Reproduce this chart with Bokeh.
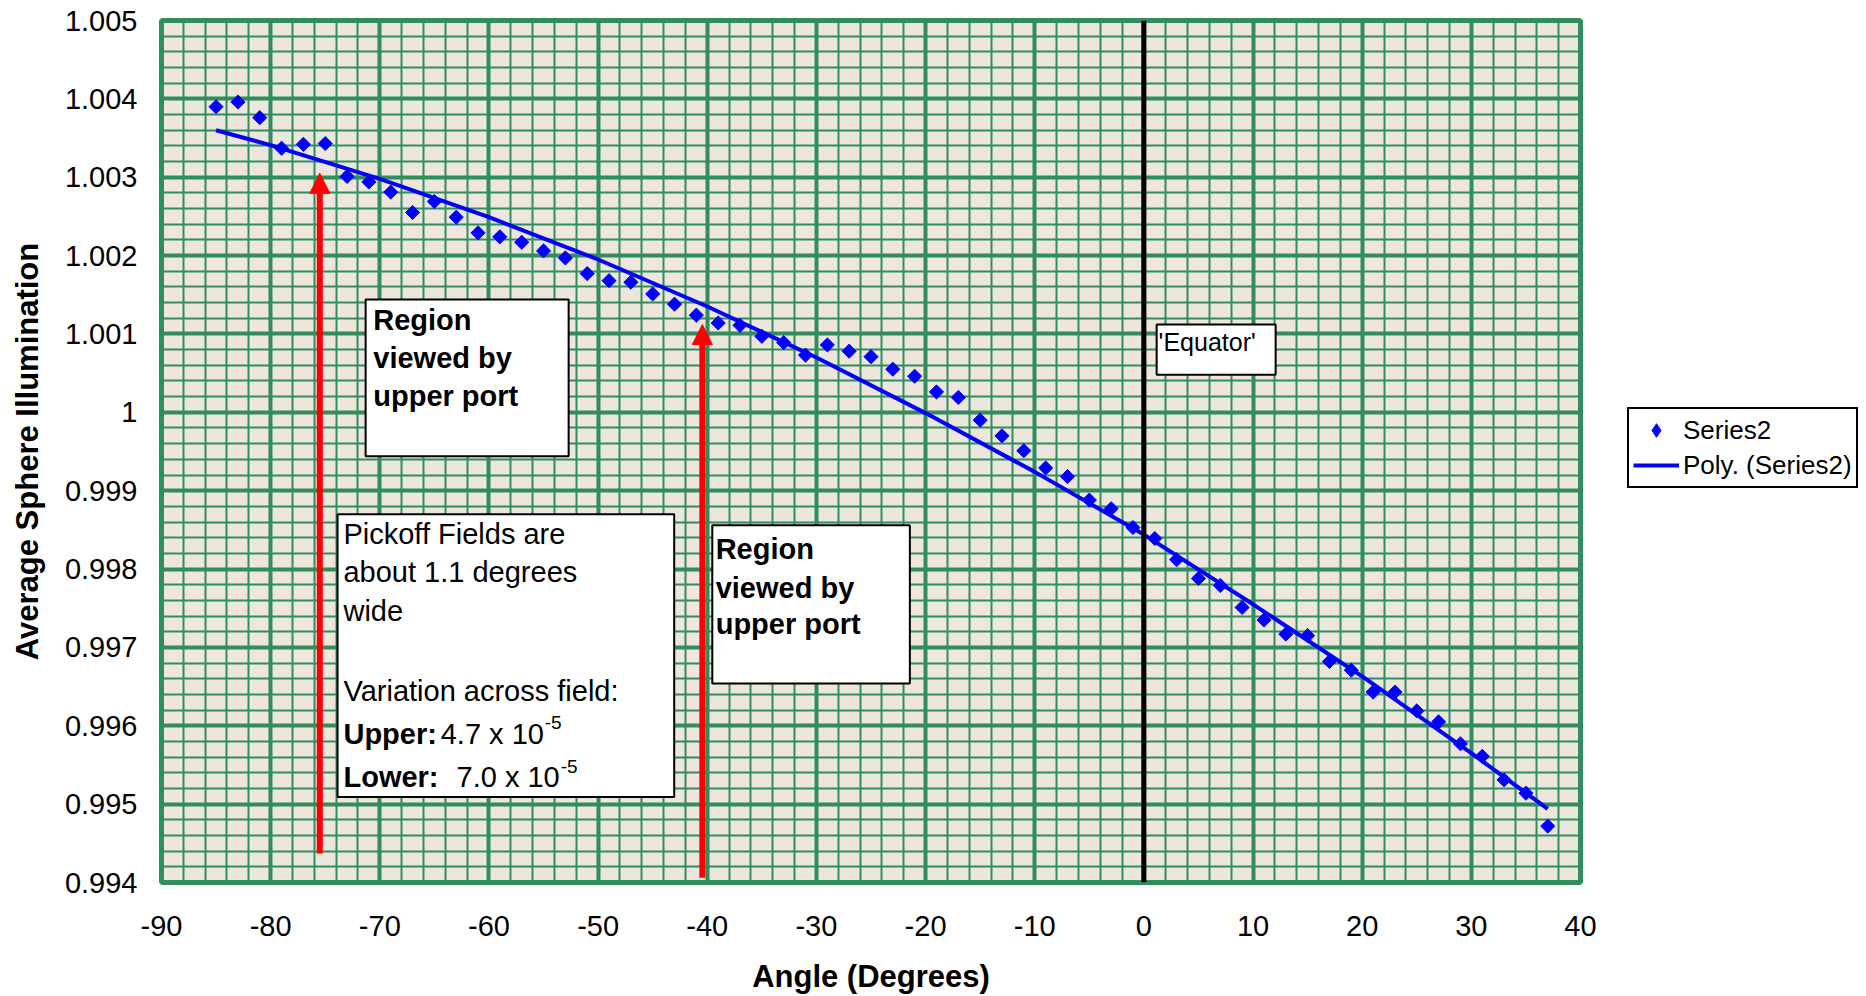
import numpy as np
from bokeh.plotting import figure
from bokeh.layouts import row
from bokeh.models import (Label, Arrow, NormalHead, Span, BoxAnnotation, Legend, LegendItem,
                          FixedTicker, SingleIntervalTicker, CustomJSTickFormatter, ColumnDataSource)
from bokeh.embed import file_html
from bokeh.resources import INLINE

# ---------------- data ----------------
angles = [-85, -83, -81, -79, -77, -75, -73, -71, -69, -67, -65, -63, -61, -59, -57, -55,
          -53, -51, -49, -47, -45, -43, -41, -39, -37, -35, -33, -31, -29, -27, -25, -23,
          -21, -19, -17, -15, -13, -11, -9, -7, -5, -3, -1, 1, 3, 5, 7, 9, 11, 13, 15, 17,
          19, 21, 23, 25, 27, 29, 31, 33, 35, 37]
illumination = [1.00390, 1.00396, 1.00376, 1.00337, 1.00342, 1.00343, 1.00301, 1.00294,
                1.00281, 1.00255, 1.00269, 1.00249, 1.00229, 1.00224, 1.00217, 1.00206,
                1.00197, 1.00177, 1.00168, 1.00166, 1.00151, 1.00138, 1.00124, 1.00114,
                1.00111, 1.00097, 1.00089, 1.00073, 1.00086, 1.00078, 1.00071, 1.00055,
                1.00046, 1.00026, 1.00019, 0.99990, 0.99970, 0.99951, 0.99929, 0.99918,
                0.99888, 0.99877, 0.99853, 0.99839, 0.99812, 0.99788, 0.99779, 0.99751,
                0.99735, 0.99717, 0.99715, 0.99682, 0.99671, 0.99643, 0.99643, 0.99619,
                0.99605, 0.99577, 0.99561, 0.99531, 0.99514, 0.99472]

# Poly. (Series2) trend line
trend_angles = [-85, -80, -70, -60, -50, -40, -30, -20, -10, 0, 10, 20, 30, 37]
trend_values = [1.00360, 1.00341, 1.00298, 1.00249, 1.00195, 1.00135, 1.00070, 0.99999,
                0.99924, 0.99844, 0.99755, 0.99663, 0.99565, 0.99494]

x_ticks = [-90, -80, -70, -60, -50, -40, -30, -20, -10, 0, 10, 20, 30, 40]
x_tick_labels = ["-90", "-80", "-70", "-60", "-50", "-40", "-30", "-20", "-10",
                 "0", "10", "20", "30", "40"]
y_ticks = [0.994, 0.995, 0.996, 0.997, 0.998, 0.999, 1.0, 1.001, 1.002, 1.003, 1.004, 1.005]
y_tick_labels = ["0.994", "0.995", "0.996", "0.997", "0.998", "0.999", "1",
                 "1.001", "1.002", "1.003", "1.004", "1.005"]

series_labels = ["Series2", "Poly. (Series2)"]

# ---------------- annotations ----------------
region_lines = ["Region", "viewed by", "upper port"]
region_boxes = [dict(left=-71.3, right=-52.7, top=1.00144, bottom=0.99944),
                dict(left=-39.54, right=-21.44, top=0.99856, bottom=0.99654)]
region_text_x = [-70.6, -39.23]
region_text_y = [[1.00118, 1.00069, 1.00021], [0.998255, 0.997753, 0.997305]]

pickoff_box = dict(left=-73.87, right=-43.03, top=0.99870, bottom=0.99509)
pickoff_x = -73.33
pickoff_lines = ["Pickoff Fields are", "about 1.1 degrees", "wide", "Variation across field:"]
pickoff_y = [0.99845, 0.99796, 0.99747, 0.99645]
variation_rows = [("Upper:", "4.7 x 10", "-5", 0.99590, -64.42, -54.89),
                  ("Lower:", "7.0 x 10", "-5", 0.99534, -62.97, -53.42)]

equator_box = dict(left=1.17, right=12.07, top=1.00112, bottom=1.00048)
equator_text = ("'Equator'", 1.35, 1.000897)

arrows = [(-75.5, 0.99437, 1.00305), (-40.45, 0.99406, 1.00112)]

FONT = "Liberation Sans"
GREEN = "#2F8E5C"
BG = "#ECE6DC"

p = figure(width=1600, height=996, x_range=(-90, 40), y_range=(0.994, 1.005),
           output_backend="svg", toolbar_location=None,
           min_border_left=161, min_border_right=20, min_border_top=20, min_border_bottom=114,
           background_fill_color=BG, border_fill_color="white",
           outline_line_color=GREEN, outline_line_width=5)

# grids
p.xgrid.ticker = SingleIntervalTicker(interval=10, num_minor_ticks=5)
p.ygrid.ticker = SingleIntervalTicker(interval=0.001, num_minor_ticks=5)
for g in (p.xgrid[0], p.ygrid[0]):
    g.grid_line_color = GREEN
    g.grid_line_width = 4
    g.grid_line_alpha = 1
    g.minor_grid_line_color = GREEN
    g.minor_grid_line_width = 2
    g.minor_grid_line_alpha = 1

LOOKUP = """
    for (let i = 0; i < vals.length; i++) {
        if (Math.abs(vals[i] - tick) < 1e-9) { return labs[i]; }
    }
    return "";
"""

# axes
xa = p.xaxis[0]
ya = p.yaxis[0]
xa.ticker = FixedTicker(ticks=x_ticks)
ya.ticker = FixedTicker(ticks=y_ticks)
xa.formatter = CustomJSTickFormatter(args=dict(vals=x_ticks, labs=x_tick_labels), code=LOOKUP)
ya.formatter = CustomJSTickFormatter(args=dict(vals=y_ticks, labs=y_tick_labels), code=LOOKUP)
for ax in (xa, ya):
    ax.axis_line_color = None
    ax.major_tick_line_color = None
    ax.minor_tick_line_color = None
    ax.major_tick_out = 0
    ax.major_tick_in = 0
    ax.minor_tick_out = 0
    ax.minor_tick_in = 0
    ax.major_label_text_font = FONT
    ax.major_label_text_font_size = "29px"
    ax.major_label_text_color = "black"
    ax.axis_label_text_font = FONT
    ax.axis_label_text_font_size = "31px"
    ax.axis_label_text_font_style = "bold"
    ax.axis_label_text_color = "black"
xa.axis_label = "Angle (Degrees)"
ya.axis_label = "Average Sphere Illumination"
xa.major_label_standoff = 33
xa.axis_label_standoff = 20
ya.major_label_standoff = 24
ya.axis_label_standoff = 17

# data
src = ColumnDataSource(dict(x=angles, y=illumination))
sc = p.scatter("x", "y", source=src, marker="square", angle=np.pi / 4, size=10,
               fill_color="blue", line_color="blue")
tsrc = ColumnDataSource(dict(x=trend_angles, y=trend_values))
ln = p.line("x", "y", source=tsrc, line_color="blue", line_width=4)

# equator line
p.add_layout(Span(location=0, dimension="height", line_color="black", line_width=5))

# red arrows
for ax_x, y0, y1 in arrows:
    p.add_layout(Arrow(end=NormalHead(size=20, fill_color="red", line_color="red", line_width=1),
                       x_start=ax_x, y_start=y0, x_end=ax_x, y_end=y1,
                       line_color="red", line_width=6))

# boxes
for b in region_boxes + [pickoff_box, equator_box]:
    p.add_layout(BoxAnnotation(left=b["left"], right=b["right"], top=b["top"], bottom=b["bottom"],
                               fill_color="white", fill_alpha=1, line_color="black",
                               line_width=2, line_alpha=1))


def lab(x, y, text, size="29px", style="normal", y_offset=0):
    p.add_layout(Label(x=x, y=y, text=text, text_font=FONT, text_font_size=size,
                       text_font_style=style, text_color="black", text_baseline="middle",
                       text_align="left", y_offset=y_offset))


for tx, tys in zip(region_text_x, region_text_y):
    for line, ty in zip(region_lines, tys):
        lab(tx, ty, line, style="bold")

for line, ty in zip(pickoff_lines, pickoff_y):
    lab(pickoff_x, ty, line)

for head, num, sup, ry, nx, sx in variation_rows:
    lab(pickoff_x, ry, head, style="bold")
    lab(nx, ry, num)
    lab(sx, ry, sup, size="19px", y_offset=11)

lab(equator_text[1], equator_text[2], equator_text[0], size="25px")

# ---------------- legend panel (right of the chart) ----------------
# same series, drawn in a panel whose y range lies outside the data, so only the key shows
lg = figure(width=266, height=996, x_range=(-90, 40), y_range=(2.0, 3.0),
            output_backend="svg", toolbar_location=None,
            x_axis_location=None, y_axis_location=None,
            min_border_left=0, min_border_right=0, min_border_top=20, min_border_bottom=114,
            outline_line_color=None, background_fill_color="white", border_fill_color="white")
lg.xgrid.visible = False
lg.ygrid.visible = False
key_sc = lg.scatter("x", "y", source=src, marker="diamond", size=14,
                    fill_color="blue", line_color="blue")
key_ln = lg.line("x", "y", source=tsrc, line_color="blue", line_width=4)
legend = Legend(items=[LegendItem(label=series_labels[0], renderers=[key_sc]),
                       LegendItem(label=series_labels[1], renderers=[key_ln])],
                location=(27, 394), orientation="vertical",
                border_line_color="black", border_line_width=2, border_line_alpha=1,
                background_fill_color="white", background_fill_alpha=1,
                label_text_font=FONT, label_text_font_size="26px", label_text_color="black",
                glyph_width=46, glyph_height=34, label_height=28, label_standoff=4,
                padding=4, spacing=1, margin=0)
lg.add_layout(legend)

layout = row(p, lg, spacing=0)
open("out.html", "w").write(file_html(layout, INLINE))
